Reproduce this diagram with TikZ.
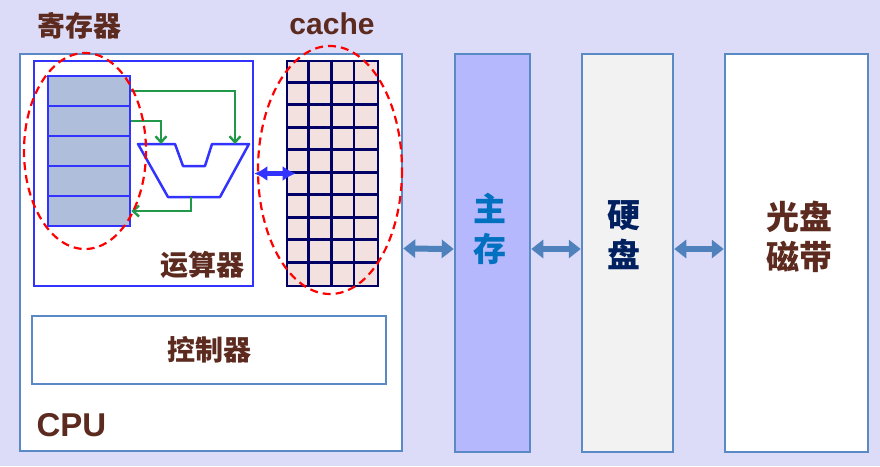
\documentclass[tikz,border=0pt]{standalone}
\usepackage{fontspec}
\setmainfont{Liberation Sans}
\newfontfamily\cjk{Noto Sans CJK SC}
\usepackage{tikz}
\usetikzlibrary{arrows.meta,positioning}

\definecolor{bgpurple}{HTML}{DCDBF8}
\definecolor{steel}{HTML}{5A8AC6}
\definecolor{linkblue}{HTML}{4F81BD}
\definecolor{alublue}{HTML}{3333FF}
\definecolor{regfill}{HTML}{AFBEDB}
\definecolor{cellfill}{HTML}{F2E1DE}
\definecolor{gridnavy}{HTML}{000066}
\definecolor{wiregreen}{HTML}{22994A}
\definecolor{txtbrown}{HTML}{5C2A1F}
\definecolor{memfill}{HTML}{B5B8FC}
\definecolor{memtxt}{HTML}{0070C0}
\definecolor{disktxt}{HTML}{002060}

\begin{document}
\begin{tikzpicture}[x=1pt,y=-1pt,
  unit/.style={draw=steel,line width=2.5pt,inner sep=0pt},
  reg/.style={draw=alublue,fill=regfill,line width=2.5pt,minimum width=82pt,
    minimum height=30pt,inner sep=0pt},
  gridline/.style={gridnavy,line width=2.6pt},
  flow/.style={draw=wiregreen,line width=2.4pt,-{Straight Barb[length=6pt,width=11pt]}},
  bus/.style={alublue,line width=5pt,{Latex[length=13pt,width=15pt]}-{Latex[length=13pt,width=15pt]}},
  link/.style={linkblue,line width=6pt,{Triangle[length=12pt,width=18pt]}-{Triangle[length=12pt,width=18pt]}},
  zone/.style={red,line width=2.2pt,dash pattern=on 8pt off 5pt},
  title/.style={font={\cjk\bfseries\fontsize{28}{30}\selectfont},text=txtbrown},
  big/.style={font={\cjk\bfseries\fontsize{33}{40}\selectfont},align=center},
]
  \fill[bgpurple] (0,0) rectangle (880,466);
  \useasboundingbox (0,0) rectangle (880,466);

  % CPU
  \node[unit,fill=white,minimum width=382pt,minimum height=397pt] (cpu) at (211,252.5) {};
  \node[draw=alublue,line width=2.5pt,minimum width=219pt,minimum height=225pt,inner sep=0pt]
    (alubox) at (143.5,173.5) {};
  \foreach \i in {1,...,5}
    \node[reg] (reg\i) at (89,{61+30*\i}) {};
  \node[draw=gridnavy,fill=cellfill,line width=2.6pt,minimum width=91pt,minimum height=225pt,
    inner sep=0pt] (cache) at (332.5,173.5) {};
  \foreach \c in {1,2,3}
    \draw[gridline] ([xshift=\c*22.75pt]cache.north west) -- ([xshift=\c*22.75pt]cache.south west);
  \foreach \r in {1,...,9}
    \draw[gridline] ([yshift=-\r*22.5pt]cache.north west) -- ([yshift=-\r*22.5pt]cache.north east);

  % ALU
  \draw[alublue,line width=2.5pt,line join=round] (138,144) -- (175,144) -- (183,166)
    -- (205,166) -- (212,144) -- (249,144) -- (220,197) -- (168,197) -- cycle;
  \coordinate (inA) at (161,144);
  \coordinate (inB) at (235,144);
  \coordinate (aluout) at (191,197);
  \draw[flow] (reg1.east) -| (inB);
  \draw[flow] (reg2.east) -| (inA);
  \draw[flow] (aluout) |- (reg5.east);

  \draw[zone] (85,151) ellipse [x radius=61, y radius=98];
  \draw[zone] (330,170) ellipse [x radius=72, y radius=124];
  \draw[bus] (alubox.east) -- ([xshift=10pt]cache.west);

  \node[title] (reglbl) at (79,26) {寄存器};
  \node[title,font={\bfseries\fontsize{30}{31}\selectfont}] (cachelbl) at (332,24) {cache};
  \node[title] (alulbl) at (202,265) {运算器};
  \node[unit,title,minimum width=354pt,minimum height=68pt] (ctrl) at (209,350) {控制器};
  \node[title,font={\bfseries\fontsize{33}{34}\selectfont},anchor=west] (cpulbl) at (33,425) {CPU};

  % storage
  \node[unit,fill=memfill,minimum width=75pt,minimum height=398pt] (mem) at (492.5,253) {};
  \node[unit,fill=black!5,minimum width=91pt,minimum height=398pt] (disk) at (627.5,253) {};
  \node[unit,fill=white,minimum width=143pt,minimum height=398pt] (tape) at (796.5,253) {};
  \node[big,text=memtxt] (memlbl) at (490,229) {主\\存};
  \node[big,text=disktxt] (disklbl) at (624,235) {硬\\盘};
  \node[big,text=txtbrown] (tapelbl) at (799,237) {光盘\\磁带};

  \draw[link] ([yshift=4pt]cpu.east) -- ([yshift=4pt]mem.west);
  \draw[link] ([yshift=4pt]mem.east) -- ([yshift=4pt]disk.west);
  \draw[link] ([yshift=4pt]disk.east) -- ([yshift=4pt]tape.west);
\end{tikzpicture}
\end{document}
